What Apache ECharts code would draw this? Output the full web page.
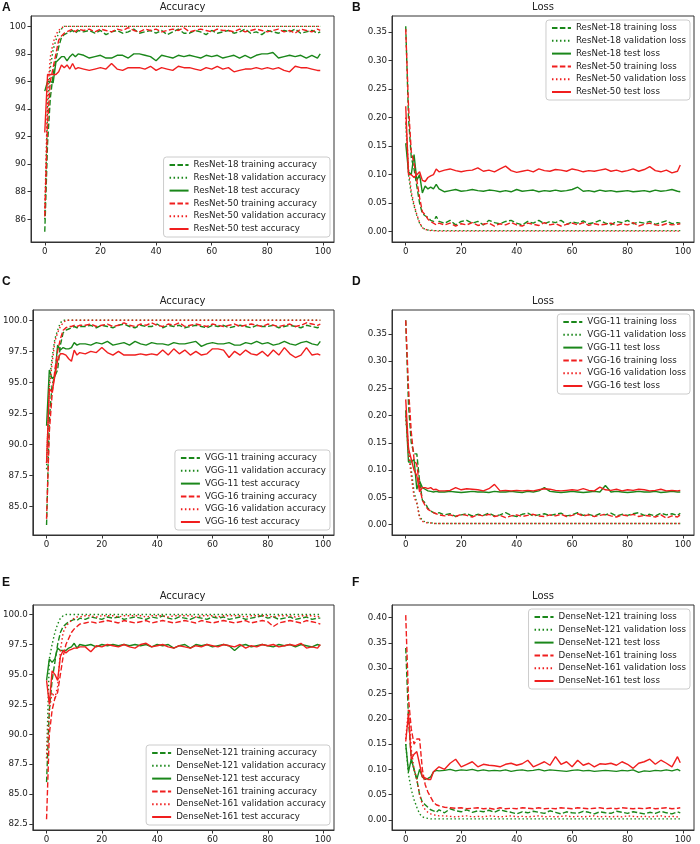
<!DOCTYPE html>
<html><head><meta charset="utf-8">
<script src="https://cdn.jsdelivr.net/npm/echarts@6/dist/echarts.min.js"></script>
<style>html,body{margin:0;padding:0;background:#fff}#c{width:700px;height:844px}</style>
</head><body><div id="c"></div>
<script>
const epochs = [0,1,2,3,4,5,6,7,8,9,10,11,12,
14,16,18,20,22,24,26,28,30,32,34,36,38,40,42,44,46,48,50,52,54,56,58,60,62,64,66,68,70,72,74,76,78,80,82,84,86,88,90,92,94,96,98,99];
const xTicks = [0,20,40,60,80,100];
const yTicksA = [86,88,90,92,94,96,98,100];
const yTicksB = [0,0.05,0.10,0.15,0.20,0.25,0.30,0.35];
const yTicksC = [85,87.5,90,92.5,95,97.5,100];
const yTicksD = [0,0.05,0.10,0.15,0.20,0.25,0.30,0.35];
const yTicksE = [82.5,85,87.5,90,92.5,95,97.5,100];
const yTicksF = [0,0.05,0.10,0.15,0.20,0.25,0.30,0.35,0.40];

// Panel A – ResNet accuracy
const A_r18_train = [85.1,91.5,94.8,96.5,97.6,98.5,99.2,99.4,99.5,99.6,99.7,99.5,99.7,
99.6,99.7,99.5,99.7,99.4,99.6,99.7,99.5,99.6,99.8,99.5,
99.6,99.7,99.5,99.7,99.4,99.6,99.8,99.5,99.5,99.7,99.6,
99.4,99.7,99.5,99.6,99.7,99.5,99.6,99.8,99.5,99.6,99.4,
99.7,99.6,99.5,99.7,99.6,99.8,99.5,99.6,99.7,99.5,99.6];
const A_r18_val = [86.0,94.0,97.0,98.3,99.0,99.5,99.8,100,100,100,100,100,100,
100,100,100,100,100,100,100,100,100,100,100,
100,100,100,100,100,100,100,100,100,100,100,
100,100,100,100,100,100,100,100,100,100,100,
100,100,100,100,100,100,100,100,100,100,100];
const A_r18_test = [95.3,96.0,96.0,95.9,97.4,97.6,97.8,97.8,97.5,97.8,98.0,97.8,98.0,
97.9,97.7,97.8,97.9,97.7,97.7,97.9,97.9,97.7,98.0,98.0,
97.9,97.8,97.5,97.9,97.8,97.7,97.9,97.8,97.9,97.8,97.7,
97.9,97.8,97.9,97.7,97.8,97.9,97.7,97.9,97.7,97.9,98.0,
98.0,98.1,97.7,97.8,97.9,97.8,97.9,97.7,97.9,97.7,98.0];
const A_r50_train = [86.2,93.0,96.0,97.0,98.0,99.0,99.3,99.5,99.6,99.7,99.8,99.6,99.8,
99.7,99.8,99.6,99.8,99.7,99.6,99.8,99.7,99.9,99.7,99.6,
99.8,99.7,99.8,99.6,99.7,99.8,99.7,99.9,99.6,99.7,99.8,
99.7,99.6,99.8,99.7,99.7,99.6,99.8,99.6,99.7,99.8,99.7,
99.6,99.7,99.8,99.6,99.7,99.5,99.8,99.7,99.6,99.8,99.7];
const A_r50_val = [86.5,95.0,97.8,98.8,99.4,99.7,99.9,100,100,100,100,100,100,
100,100,100,100,100,100,100,100,100,100,100,
100,100,100,100,100,100,100,100,100,100,100,
100,100,100,100,100,100,100,100,100,100,100,
100,100,100,100,100,100,100,100,100,100,100];
const A_r50_test = [92.3,96.5,96.5,96.5,96.5,96.7,97.2,97.0,97.2,96.9,97.3,96.9,97.0,
96.9,96.8,96.9,97.0,96.9,97.3,96.9,96.8,97.0,97.0,97.0,
96.9,97.1,96.8,97.0,96.9,96.8,97.1,97.0,97.0,96.9,96.8,
97.0,96.9,97.1,96.9,97.0,96.7,96.8,96.9,96.9,97.0,96.9,
97.0,96.9,97.0,96.8,96.7,97.1,97.0,97.0,96.9,96.8,96.8];

// Panel B – ResNet loss
const B_r18_train = [0.36,0.2,0.13,0.11,0.08,0.05,0.032,0.028,0.025,0.02,0.018,0.027,0.018,
0.015,0.02,0.012,0.018,0.02,0.015,0.018,0.012,0.02,0.016,0.014,
0.018,0.02,0.015,0.012,0.018,0.015,0.02,0.014,0.018,0.016,0.02,
0.013,0.017,0.015,0.019,0.014,0.016,0.02,0.015,0.012,0.018,0.016,
0.02,0.014,0.017,0.015,0.018,0.013,0.016,0.019,0.014,0.016,0.015];
const B_r18_val = [0.19,0.1,0.065,0.045,0.028,0.015,0.007,0.004,0.003,0.003,0.002,0.002,0.002,
0.002,0.002,0.002,0.002,0.002,0.002,0.002,0.002,0.002,0.002,0.002,
0.002,0.002,0.002,0.002,0.002,0.002,0.002,0.002,0.002,0.002,0.002,
0.002,0.002,0.002,0.002,0.002,0.002,0.002,0.002,0.002,0.002,0.002,
0.002,0.002,0.002,0.002,0.002,0.002,0.002,0.002,0.002,0.002,0.002];
const B_r18_test = [0.155,0.105,0.1,0.135,0.09,0.1,0.068,0.08,0.075,0.078,0.075,0.083,0.075,
0.07,0.072,0.074,0.071,0.072,0.074,0.072,0.071,0.073,0.072,0.07,
0.072,0.07,0.074,0.071,0.072,0.073,0.07,0.072,0.071,0.073,0.071,
0.072,0.074,0.078,0.071,0.072,0.07,0.073,0.071,0.072,0.07,0.071,
0.072,0.07,0.071,0.072,0.07,0.073,0.071,0.072,0.074,0.071,0.07];
const B_r50_train = [0.355,0.22,0.14,0.12,0.09,0.06,0.035,0.03,0.022,0.018,0.015,0.012,0.015,
0.012,0.015,0.01,0.014,0.012,0.016,0.011,0.013,0.015,0.01,0.014,
0.012,0.016,0.012,0.01,0.015,0.013,0.011,0.016,0.012,0.014,0.01,
0.013,0.015,0.012,0.016,0.011,0.014,0.012,0.013,0.015,0.011,0.014,
0.012,0.016,0.01,0.013,0.015,0.012,0.011,0.014,0.012,0.013,0.014];
const B_r50_val = [0.2,0.11,0.07,0.048,0.03,0.016,0.007,0.004,0.003,0.002,0.002,0.001,0.001,
0.001,0.001,0.001,0.001,0.001,0.001,0.001,0.001,0.001,0.001,0.001,
0.001,0.001,0.001,0.001,0.001,0.001,0.001,0.001,0.001,0.001,0.001,
0.001,0.001,0.001,0.001,0.001,0.001,0.001,0.001,0.001,0.001,0.001,
0.001,0.001,0.001,0.001,0.001,0.001,0.001,0.001,0.001,0.001,0.001];
const B_r50_test = [0.22,0.1,0.1,0.095,0.1,0.105,0.09,0.088,0.095,0.098,0.1,0.11,0.105,
0.108,0.11,0.107,0.105,0.107,0.108,0.112,0.106,0.108,0.105,0.11,
0.115,0.107,0.104,0.106,0.108,0.105,0.11,0.107,0.106,0.109,0.108,
0.106,0.11,0.108,0.105,0.107,0.106,0.108,0.11,0.106,0.108,0.105,
0.107,0.11,0.106,0.109,0.114,0.107,0.105,0.108,0.103,0.106,0.117];

// Panel C – VGG accuracy
const C_v11_train = [83.5,92.0,94.8,95.5,96.0,98.0,99.0,99.2,99.3,99.4,99.5,99.4,99.5,
99.5,99.6,99.4,99.6,99.5,99.4,99.6,99.7,99.5,99.4,99.6,
99.5,99.5,99.7,99.4,99.6,99.5,99.6,99.4,99.5,99.6,99.5,
99.4,99.6,99.5,99.6,99.4,99.5,99.6,99.5,99.4,99.6,99.5,
99.5,99.6,99.4,99.5,99.6,99.5,99.4,99.6,99.5,99.4,99.5];
const C_v11_val = [88.0,95.0,97.0,98.5,99.2,99.8,100,100,100,100,100,100,100,
100,100,100,100,100,100,100,100,100,100,100,
100,100,100,100,100,100,100,100,100,100,100,
100,100,100,100,100,100,100,100,100,100,100,
100,100,100,100,100,100,100,100,100,100,100];
const C_v11_test = [91.5,96.0,95.3,95.5,98.0,97.6,97.8,97.7,97.7,97.8,98.2,98.0,98.1,
98.1,98.0,98.2,98.1,98.3,98.0,98.1,98.2,98.0,98.3,98.1,
98.0,98.2,98.1,98.1,98.0,98.2,98.1,98.1,98.2,98.3,97.9,
98.1,98.2,98.1,98.1,98.2,98.0,98.0,98.2,98.1,98.3,98.1,
98.2,98.0,98.1,98.3,98.1,98.0,98.2,98.3,98.1,98.0,98.3];
const C_v16_train = [84.0,91.0,94.0,96.0,97.5,98.5,99.2,99.4,99.5,99.5,99.6,99.5,99.6,
99.6,99.7,99.5,99.6,99.7,99.5,99.6,99.8,99.6,99.5,99.7,
99.6,99.8,99.6,99.5,99.7,99.6,99.8,99.5,99.6,99.7,99.6,
99.5,99.7,99.6,99.5,99.6,99.7,99.5,99.6,99.7,99.6,99.5,
99.7,99.6,99.5,99.6,99.7,99.5,99.6,99.8,99.7,99.6,99.7];
const C_v16_val = [88.5,94.5,96.5,98.3,99.0,99.5,99.8,100,100,100,100,100,100,
100,100,100,100,100,100,100,100,100,100,100,
100,100,100,100,100,100,100,100,100,100,100,
100,100,100,100,100,100,100,100,100,100,100,
100,100,100,100,100,100,100,100,100,100,100];
const C_v16_test = [88.5,94.5,94.2,95.5,96.8,97.3,97.3,97.2,96.9,96.7,97.6,97.2,97.4,
97.3,97.5,97.4,97.8,97.4,97.2,97.5,97.2,97.2,97.2,97.3,
97.2,97.3,97.2,97.6,97.2,97.7,97.3,97.6,97.2,97.5,97.2,
97.3,97.7,97.7,97.6,97.0,97.5,97.2,97.6,97.3,97.2,97.5,
97.1,97.6,97.2,97.8,97.3,97.0,97.2,97.8,97.2,97.3,97.2];

// Panel D – VGG loss
const D_v11_train = [0.375,0.22,0.15,0.13,0.13,0.08,0.045,0.04,0.03,0.025,0.022,0.02,0.022,
0.018,0.02,0.015,0.018,0.02,0.016,0.019,0.017,0.021,0.016,0.018,
0.022,0.017,0.015,0.019,0.021,0.016,0.018,0.02,0.017,0.019,0.021,
0.016,0.018,0.022,0.017,0.019,0.016,0.02,0.018,0.021,0.016,0.019,
0.017,0.02,0.022,0.017,0.019,0.016,0.021,0.018,0.02,0.017,0.021];
const D_v11_val = [0.2,0.14,0.1,0.06,0.04,0.015,0.008,0.005,0.004,0.003,0.003,0.002,0.002,
0.002,0.002,0.002,0.002,0.002,0.002,0.002,0.002,0.002,0.002,0.002,
0.002,0.002,0.002,0.002,0.002,0.002,0.002,0.002,0.002,0.002,0.002,
0.002,0.002,0.002,0.002,0.002,0.002,0.002,0.002,0.002,0.002,0.002,
0.002,0.002,0.002,0.002,0.002,0.002,0.002,0.002,0.002,0.002,0.002];
const D_v11_test = [0.21,0.115,0.115,0.12,0.065,0.08,0.068,0.065,0.062,0.061,0.06,0.061,0.06,
0.06,0.061,0.06,0.059,0.06,0.061,0.06,0.06,0.059,0.061,0.06,
0.06,0.061,0.06,0.059,0.061,0.06,0.062,0.068,0.061,0.06,0.059,
0.06,0.061,0.06,0.059,0.06,0.061,0.06,0.072,0.06,0.061,0.06,
0.059,0.06,0.061,0.06,0.06,0.061,0.059,0.06,0.061,0.06,0.06];
const D_v16_train = [0.375,0.25,0.17,0.12,0.11,0.07,0.045,0.035,0.028,0.025,0.022,0.02,0.018,
0.016,0.018,0.015,0.019,0.017,0.014,0.018,0.016,0.019,0.015,0.017,
0.013,0.016,0.018,0.015,0.017,0.019,0.016,0.015,0.018,0.016,0.019,
0.015,0.017,0.02,0.016,0.018,0.015,0.017,0.019,0.016,0.014,0.018,
0.016,0.019,0.015,0.017,0.016,0.014,0.018,0.012,0.016,0.014,0.018];
const D_v16_val = [0.2,0.13,0.09,0.05,0.04,0.012,0.006,0.004,0.003,0.003,0.002,0.002,0.002,
0.002,0.002,0.002,0.002,0.002,0.002,0.002,0.002,0.002,0.002,0.002,
0.002,0.002,0.002,0.002,0.002,0.002,0.002,0.002,0.002,0.002,0.002,
0.002,0.002,0.002,0.002,0.002,0.002,0.002,0.002,0.002,0.002,0.002,
0.002,0.002,0.002,0.002,0.002,0.002,0.002,0.002,0.002,0.002,0.002];
const D_v16_test = [0.23,0.14,0.12,0.1,0.09,0.06,0.068,0.068,0.066,0.068,0.064,0.065,0.062,
0.062,0.063,0.068,0.064,0.066,0.065,0.064,0.062,0.066,0.074,0.062,
0.063,0.062,0.063,0.062,0.063,0.062,0.064,0.066,0.065,0.063,0.062,
0.063,0.064,0.063,0.066,0.063,0.062,0.069,0.064,0.063,0.065,0.062,
0.064,0.063,0.065,0.064,0.062,0.063,0.065,0.062,0.063,0.062,0.063];

// Panel E – DenseNet accuracy
const E_d121_train = [86.0,92.0,94.5,96.0,97.5,98.5,99.0,99.2,99.4,99.5,99.6,99.5,99.7,
99.6,99.8,99.7,99.6,99.8,99.7,99.8,99.6,99.7,99.8,99.7,
99.6,99.8,99.7,99.9,99.7,99.6,99.8,99.7,99.6,99.8,99.7,
99.6,99.8,99.7,99.8,99.6,99.7,99.8,99.6,99.7,99.8,99.9,
99.7,99.8,99.6,99.7,99.8,99.6,99.7,99.8,99.6,99.7,99.7];
const E_d121_val = [88.0,96.3,97.5,98.5,99.2,99.7,99.9,100,100,100,100,100,100,
100,100,100,100,100,100,100,100,100,100,100,
100,100,100,100,100,100,100,100,100,100,100,
100,100,100,100,100,100,100,100,100,100,100,
100,100,100,100,100,100,100,100,100,100,100];
const E_d121_test = [94.5,96.3,96.0,96.3,97.2,97.0,97.0,97.0,97.2,97.3,97.6,97.2,97.5,
97.4,97.5,97.3,97.5,97.4,97.5,97.4,97.5,97.4,97.5,97.4,
97.5,97.3,97.5,97.4,97.5,97.2,97.4,97.5,97.2,97.5,97.4,
97.5,97.3,97.4,97.5,97.4,97.0,97.4,97.5,97.3,97.4,97.5,
97.4,97.3,97.5,97.4,97.5,97.3,97.5,97.4,97.3,97.5,97.4];
const E_d161_train = [82.9,90.0,92.0,93.0,93.5,95.0,96.5,97.5,98.0,98.5,98.8,99.0,99.2,
99.3,99.4,99.3,99.4,99.5,99.4,99.3,99.5,99.4,99.3,99.4,
99.5,99.3,99.4,99.5,99.4,99.3,99.4,99.5,99.4,99.3,99.5,
99.4,99.3,99.4,99.5,99.4,99.3,99.4,99.5,99.3,99.4,99.5,
99.4,99.0,99.3,99.4,99.5,99.4,99.3,99.5,99.4,99.3,99.2];
const E_d161_val = [88.0,92.0,93.5,93.0,94.0,97.0,98.5,99.0,99.3,99.5,99.7,99.8,99.8,
99.9,99.9,99.8,99.9,99.9,99.9,99.8,99.9,99.9,99.9,99.9,
99.8,99.9,99.9,99.9,99.8,99.9,99.9,99.9,99.9,99.8,99.9,
99.9,99.9,99.8,99.9,99.9,99.9,99.9,99.8,99.9,99.9,99.9,
99.9,99.8,99.9,99.9,99.9,99.8,99.9,99.9,99.9,99.8,99.9];
const E_d161_test = [94.5,92.5,95.3,95.0,94.5,96.5,97.0,96.8,97.0,97.1,97.2,97.2,97.3,
97.3,96.9,97.4,97.3,97.5,97.4,97.3,97.5,97.3,97.2,97.5,
97.6,97.3,97.4,97.5,97.3,97.2,97.4,97.3,97.2,97.4,97.3,
97.5,97.4,97.3,97.5,97.4,97.3,97.5,97.2,97.4,97.3,97.5,
97.4,97.5,97.3,97.4,97.5,97.4,97.6,97.2,97.3,97.2,97.5];

// Panel F – DenseNet loss
const F_d121_train = [0.34,0.2,0.12,0.1,0.08,0.05,0.035,0.03,0.025,0.02,0.018,0.015,0.02,
0.014,0.022,0.018,0.016,0.02,0.015,0.018,0.016,0.019,0.015,0.02,
0.017,0.015,0.012,0.016,0.014,0.017,0.015,0.013,0.018,0.015,0.012,
0.016,0.014,0.013,0.017,0.015,0.012,0.016,0.014,0.013,0.017,0.015,
0.013,0.016,0.014,0.012,0.015,0.013,0.017,0.014,0.012,0.016,0.014];
const F_d121_val = [0.15,0.09,0.06,0.04,0.025,0.012,0.006,0.004,0.003,0.002,0.002,0.002,0.002,
0.002,0.002,0.002,0.002,0.002,0.002,0.002,0.002,0.002,0.002,0.002,
0.002,0.002,0.002,0.002,0.002,0.002,0.002,0.002,0.002,0.002,0.002,
0.002,0.002,0.002,0.002,0.002,0.002,0.002,0.002,0.002,0.002,0.002,
0.002,0.002,0.002,0.002,0.002,0.002,0.002,0.002,0.002,0.002,0.002];
const F_d121_test = [0.15,0.095,0.12,0.1,0.08,0.1,0.085,0.08,0.082,0.085,0.095,0.098,0.097,
0.098,0.1,0.097,0.099,0.098,0.1,0.097,0.099,0.097,0.098,0.097,
0.099,0.096,0.098,0.099,0.097,0.098,0.1,0.097,0.099,0.098,0.097,
0.096,0.098,0.099,0.097,0.098,0.096,0.097,0.098,0.097,0.096,0.098,
0.097,0.099,0.094,0.097,0.096,0.098,0.097,0.099,0.097,0.1,0.097];
const F_d161_train = [0.405,0.24,0.18,0.15,0.16,0.16,0.1,0.07,0.055,0.045,0.035,0.03,0.028,
0.025,0.024,0.023,0.024,0.022,0.023,0.024,0.022,0.023,0.021,0.024,
0.022,0.023,0.022,0.024,0.023,0.022,0.024,0.022,0.023,0.022,0.024,
0.023,0.022,0.024,0.023,0.022,0.023,0.024,0.022,0.023,0.022,0.024,
0.023,0.022,0.023,0.022,0.024,0.022,0.023,0.024,0.022,0.023,0.024];
const F_d161_val = [0.16,0.22,0.14,0.1,0.08,0.05,0.03,0.02,0.015,0.012,0.01,0.009,0.008,
0.008,0.007,0.006,0.007,0.008,0.006,0.007,0.006,0.008,0.007,0.006,
0.007,0.008,0.006,0.007,0.006,0.007,0.008,0.006,0.007,0.006,0.007,
0.008,0.006,0.007,0.006,0.007,0.008,0.006,0.007,0.006,0.007,0.006,
0.008,0.007,0.006,0.007,0.006,0.007,0.008,0.006,0.007,0.006,0.005];
const F_d161_test = [0.155,0.21,0.12,0.13,0.135,0.11,0.085,0.083,0.08,0.08,0.095,0.1,0.105,
0.1,0.112,0.12,0.105,0.11,0.115,0.105,0.11,0.108,0.107,0.105,
0.11,0.112,0.108,0.111,0.118,0.105,0.11,0.115,0.108,0.125,0.11,
0.115,0.105,0.118,0.108,0.112,0.105,0.111,0.11,0.112,0.108,0.115,
0.11,0.102,0.112,0.115,0.12,0.11,0.118,0.112,0.105,0.125,0.113];

const GREEN = '#1a871a', RED = '#f01e1e';
const FONT = 'DejaVu Sans';
const DASH = [5.5, 2.4], DOT = [1.5, 2.5];

const panels = [
  {label:'A', title:'Accuracy', grid:{left:31,top:16,width:303,height:226}, y:[84.35,100.75], yt:yTicksA, dec:0,
   legend:{right:370,bottom:607},
   s:[['ResNet-18 training accuracy',A_r18_train,GREEN,DASH],['ResNet-18 validation accuracy',A_r18_val,GREEN,DOT],['ResNet-18 test accuracy',A_r18_test,GREEN,'solid'],
      ['ResNet-50 training accuracy',A_r50_train,RED,DASH],['ResNet-50 validation accuracy',A_r50_val,RED,DOT],['ResNet-50 test accuracy',A_r50_test,RED,'solid']]},
  {label:'B', title:'Loss', grid:{left:392,top:16,width:302,height:226}, y:[-0.018,0.378], yt:yTicksB, dec:2,
   legend:{right:10,top:20},
   s:[['ResNet-18 training loss',B_r18_train,GREEN,DASH],['ResNet-18 validation loss',B_r18_val,GREEN,DOT],['ResNet-18 test loss',B_r18_test,GREEN,'solid'],
      ['ResNet-50 training loss',B_r50_train,RED,DASH],['ResNet-50 validation loss',B_r50_val,RED,DOT],['ResNet-50 test loss',B_r50_test,RED,'solid']]},
  {label:'C', title:'Accuracy', grid:{left:31,top:310,width:303,height:225}, y:[82.7,100.83], yt:yTicksC, dec:1,
   legend:{right:370,bottom:314},
   s:[['VGG-11 training accuracy',C_v11_train,GREEN,DASH],['VGG-11 validation accuracy',C_v11_val,GREEN,DOT],['VGG-11 test accuracy',C_v11_test,GREEN,'solid'],
      ['VGG-16 training accuracy',C_v16_train,RED,DASH],['VGG-16 validation accuracy',C_v16_val,RED,DOT],['VGG-16 test accuracy',C_v16_test,RED,'solid']]},
  {label:'D', title:'Loss', grid:{left:392,top:310,width:302,height:225}, y:[-0.019,0.394], yt:yTicksD, dec:2,
   legend:{right:10,top:314},
   s:[['VGG-11 training loss',D_v11_train,GREEN,DASH],['VGG-11 validation loss',D_v11_val,GREEN,DOT],['VGG-11 test loss',D_v11_test,GREEN,'solid'],
      ['VGG-16 training loss',D_v16_train,RED,DASH],['VGG-16 validation loss',D_v16_val,RED,DOT],['VGG-16 test loss',D_v16_test,RED,'solid']]},
  {label:'E', title:'Accuracy', grid:{left:31,top:605,width:303,height:225}, y:[82.0,100.8], yt:yTicksE, dec:1,
   legend:{right:370,bottom:19},
   s:[['DenseNet-121 training accuracy',E_d121_train,GREEN,DASH],['DenseNet-121 validation accuracy',E_d121_val,GREEN,DOT],['DenseNet-121 test accuracy',E_d121_test,GREEN,'solid'],
      ['DenseNet-161 training accuracy',E_d161_train,RED,DASH],['DenseNet-161 validation accuracy',E_d161_val,RED,DOT],['DenseNet-161 test accuracy',E_d161_test,RED,'solid']]},
  {label:'F', title:'Loss', grid:{left:392,top:605,width:302,height:225}, y:[-0.02,0.425], yt:yTicksF, dec:2,
   legend:{right:10,top:609},
   s:[['DenseNet-121 training loss',F_d121_train,GREEN,DASH],['DenseNet-121 validation loss',F_d121_val,GREEN,DOT],['DenseNet-121 test loss',F_d121_test,GREEN,'solid'],
      ['DenseNet-161 training loss',F_d161_train,RED,DASH],['DenseNet-161 validation loss',F_d161_val,RED,DOT],['DenseNet-161 test loss',F_d161_test,RED,'solid']]}
];

const grid=[], xAxis=[], yAxis=[], series=[], legend=[], title=[];
const FS = 8.7;
const axisLine = {show:true, onZero:false, lineStyle:{color:'#333', width:1}};
const tickBase = {show:true, length:3.5, lineStyle:{color:'#333'}};
const labelBase = {fontFamily:FONT, fontSize:FS, color:'#222', margin:5};
panels.forEach((p,i)=>{
  grid.push(Object.assign({show:true, borderColor:'#333', borderWidth:1, backgroundColor:'#fff'}, p.grid));
  xAxis.push({type:'value', gridIndex:i, min:-4.95, max:103.95,
    axisLine, splitLine:{show:false},
    axisTick:Object.assign({customValues:xTicks}, tickBase),
    axisLabel:Object.assign({customValues:xTicks, formatter:v=>String(Math.round(v))}, labelBase)});
  const d = p.dec;
  yAxis.push({type:'value', gridIndex:i, min:p.y[0], max:p.y[1],
    axisLine, splitLine:{show:false},
    axisTick:Object.assign({customValues:p.yt}, tickBase),
    axisLabel:Object.assign({customValues:p.yt, formatter:v=>Number(v).toFixed(d)}, labelBase)});
  const cx = p.grid.left + p.grid.width/2;
  title.push({text:p.title, left:cx, top:p.grid.top-14, textAlign:'center', padding:0,
    textStyle:{fontFamily:FONT, fontSize:10, fontWeight:'normal', color:'#222'}});
  title.push({text:p.label, left:p.grid.left<100?2:352, top:(p.grid.top<100?2:(p.grid.top<400?276:577)), padding:0,
    textStyle:{fontFamily:'Liberation Sans', fontSize:12, fontWeight:'bold', color:'#111'}});
  p.s.forEach(([name,data,color,type])=>{
    series.push({name, type:'line', xAxisIndex:i, yAxisIndex:i, showSymbol:false, symbol:'none',
      data: epochs.map((e,k)=>[e,data[k]]), clip:true,
      lineStyle:{color, width:1.4, type}, itemStyle:{color}});
  });
  legend.push(Object.assign({orient:'vertical', data:p.s.map(s=>s[0]),
    itemWidth:19, itemHeight:10, itemGap:2.8, padding:[3,4,3,5],
    backgroundColor:'rgba(255,255,255,0.85)', borderColor:'#ccc', borderWidth:1, borderRadius:3,
    selectedMode:false, itemStyle:{opacity:0},
    textStyle:{fontFamily:FONT, fontSize:FS, color:'#222', lineHeight:10}}, p.legend));
});

const chart = echarts.init(document.getElementById('c'), null, {renderer:'canvas'});
chart.setOption({animation:false, backgroundColor:'#fff', grid, xAxis, yAxis, series, legend, title});
</script></body></html>
